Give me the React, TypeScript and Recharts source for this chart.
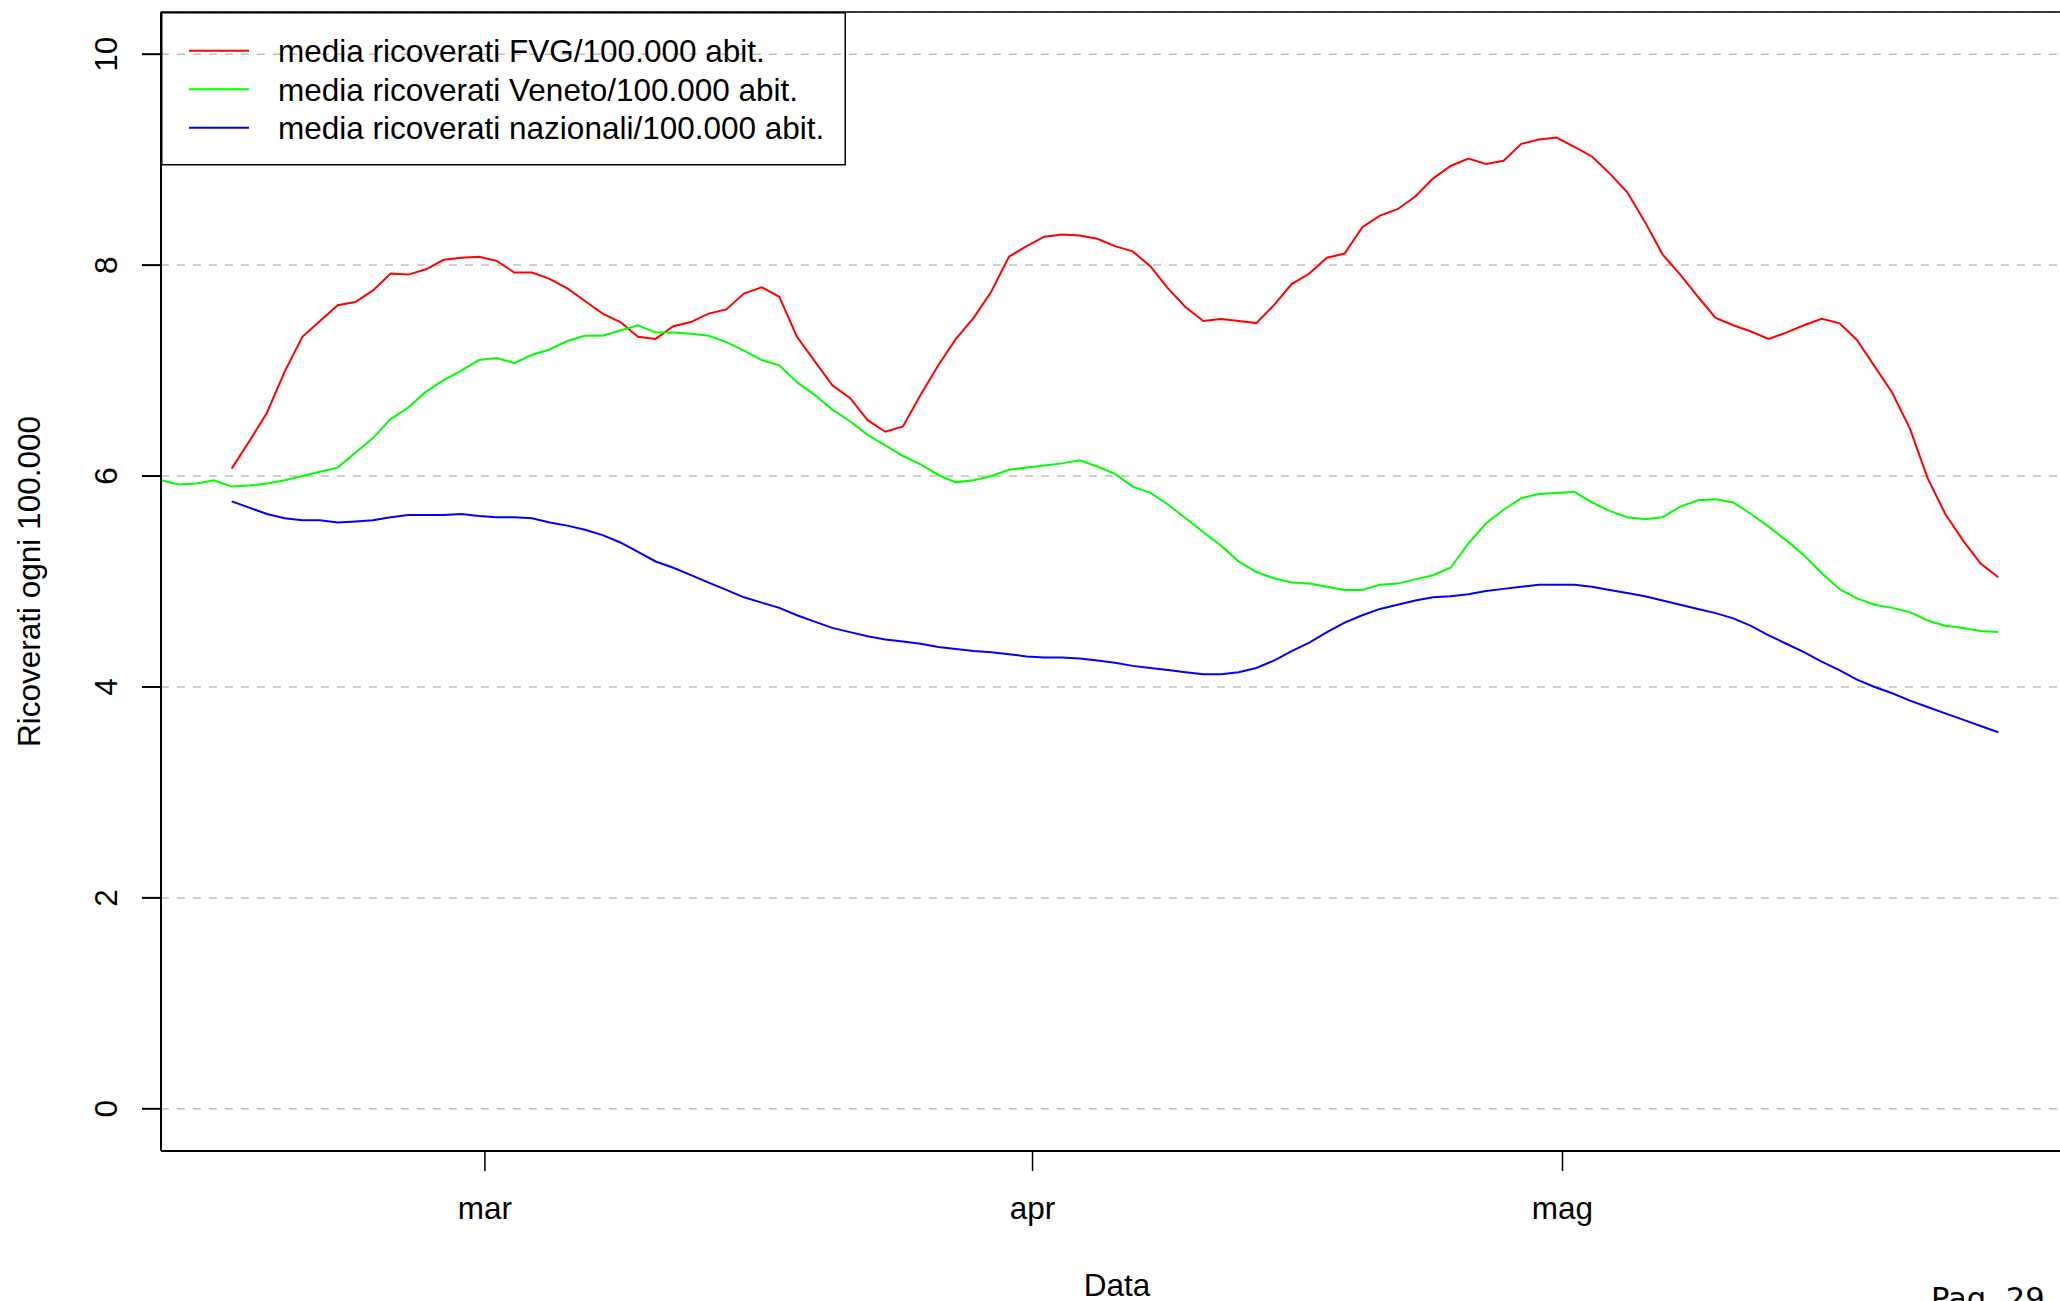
import React from 'react'
import { LineChart, Line, XAxis, YAxis, CartesianGrid, Legend, ReferenceLine } from 'recharts'

// day of year (2021) of the first sample; samples are stamped 16:00 UTC
const FIRST_DOY = 41
const SAMPLE_HOUR = 16 / 24

const MONTH_TICKS = [60, 91, 121]
const MONTH_LABELS: Record<number, string> = { 60: 'mar', 91: 'apr', 121: 'mag' }
const Y_TICKS = [0, 2, 4, 6, 8, 10]

const FVG = [
  null, null, null, null, 6.07, 6.33, 6.6, 6.99, 7.32, 7.47, 7.62, 7.65, 7.76, 7.92, 7.91, 7.96, 8.05, 8.07, 8.08, 8.04,
  7.93, 7.93, 7.87, 7.78, 7.66, 7.54, 7.46, 7.32, 7.3, 7.42, 7.46, 7.54, 7.58, 7.73, 7.79, 7.7, 7.32, 7.09, 6.86, 6.74,
  6.53, 6.42, 6.47, 6.77, 7.05, 7.3, 7.5, 7.75, 8.08, 8.18, 8.27, 8.29, 8.28, 8.25, 8.18, 8.13, 7.99, 7.78, 7.6, 7.47,
  7.49, 7.47, 7.45, 7.62, 7.82, 7.92, 8.07, 8.11, 8.36, 8.47, 8.53, 8.65, 8.82, 8.94, 9.01, 8.96, 8.99, 9.15, 9.19, 9.21,
  9.12, 9.03, 8.87, 8.69, 8.41, 8.1, 7.91, 7.7, 7.5, 7.43, 7.37, 7.3, 7.36, 7.43, 7.49, 7.45, 7.29, 7.04, 6.79, 6.45,
  5.98, 5.64, 5.39, 5.17, 5.04,
]

const VENETO = [
  5.96, 5.92, 5.93, 5.96, 5.9, 5.91, 5.93, 5.96, 6.0, 6.04, 6.08, 6.22, 6.36, 6.54, 6.65, 6.8, 6.91, 7.0, 7.1, 7.12,
  7.07, 7.15, 7.2, 7.28, 7.33, 7.33, 7.38, 7.43, 7.36, 7.36, 7.35, 7.33, 7.27, 7.19, 7.1, 7.05, 6.89, 6.77, 6.63, 6.52,
  6.39, 6.29, 6.19, 6.11, 6.01, 5.94, 5.96, 6.0, 6.06, 6.08, 6.1, 6.12, 6.15, 6.09, 6.02, 5.9, 5.84, 5.73, 5.6, 5.47,
  5.34, 5.19, 5.09, 5.03, 4.99, 4.98, 4.95, 4.92, 4.92, 4.97, 4.98, 5.02, 5.06, 5.13, 5.36, 5.55, 5.68, 5.79, 5.83, 5.84,
  5.85, 5.75, 5.67, 5.61, 5.59, 5.61, 5.71, 5.77, 5.78, 5.75, 5.64, 5.52, 5.39, 5.25, 5.08, 4.93, 4.84, 4.78, 4.75, 4.71,
  4.63, 4.58, 4.56, 4.53, 4.52,
]

const ITALIA = [
  null, null, null, null, 5.76, 5.7, 5.64, 5.6, 5.58, 5.58, 5.56, 5.57, 5.58, 5.61, 5.63, 5.63, 5.63, 5.64, 5.62, 5.61,
  5.61, 5.6, 5.56, 5.53, 5.49, 5.44, 5.37, 5.28, 5.19, 5.13, 5.06, 4.99, 4.92, 4.85, 4.8, 4.75, 4.68, 4.62, 4.56, 4.52,
  4.48, 4.45, 4.43, 4.41, 4.38, 4.36, 4.34, 4.33, 4.31, 4.29, 4.28, 4.28, 4.27, 4.25, 4.23, 4.2, 4.18, 4.16, 4.14, 4.12,
  4.12, 4.14, 4.18, 4.25, 4.34, 4.42, 4.52, 4.61, 4.68, 4.74, 4.78, 4.82, 4.85, 4.86, 4.88, 4.91, 4.93, 4.95, 4.97, 4.97,
  4.97, 4.95, 4.92, 4.89, 4.86, 4.82, 4.78, 4.74, 4.7, 4.65, 4.58, 4.49, 4.41, 4.33, 4.24, 4.16, 4.07, 4.0, 3.94, 3.87,
  3.81, 3.75, 3.69, 3.63, 3.57,
]

const SERIES = [
  { key: 'fvg', name: 'media ricoverati FVG/100.000 abit.', color: '#FF0000' },
  { key: 'veneto', name: 'media ricoverati Veneto/100.000 abit.', color: '#00FF00' },
  { key: 'italia', name: 'media ricoverati nazionali/100.000 abit.', color: '#0000FF' },
]

const X_MIN = FIRST_DOY + SAMPLE_HOUR
const X_MAX = X_MIN + 108.23
const Y_MIN = -0.4
const Y_MAX = 10.4
const FONT = '"Liberation Sans", Arial, Helvetica, sans-serif'
const FS = 31.5

const data = VENETO.map((v, i) => ({
  t: FIRST_DOY + i + SAMPLE_HOUR,
  fvg: FVG[i],
  veneto: v,
  italia: ITALIA[i],
}))

const XTick = ({ x, y, payload }: any) => (
  <text x={x} y={y + 46} textAnchor="middle" fontFamily={FONT} fontSize={FS} fill="#000">
    {MONTH_LABELS[payload.value]}
  </text>
)

const YTick = ({ x, y, payload }: any) => (
  <text
    x={x - 23}
    y={y}
    transform={`rotate(-90, ${x - 23}, ${y})`}
    textAnchor="middle"
    fontFamily={FONT}
    fontSize={FS}
    fill="#000"
  >
    {payload.value}
  </text>
)

const renderLegend = ({ payload }: any) => {
  const items = [...(payload || [])].sort(
    (a: any, b: any) =>
      SERIES.findIndex(s => s.key === a.dataKey) - SERIES.findIndex(s => s.key === b.dataKey)
  )
  return (
    <svg width={685} height={154} style={{ display: 'block', overflow: 'visible' }}>
      <rect x={0.75} y={0.75} width={683.5} height={152} fill="none" stroke="#000" strokeWidth={1.5} />
      {items.map((entry: any, i: number) => {
        const cy = 38.7 + i * 38.5
        return (
          <g key={entry.value}>
            <line x1={28} x2={88} y1={cy} y2={cy} stroke={entry.color} strokeWidth={2} />
            <text x={117} y={cy + 11.5} fontFamily={FONT} fontSize={FS} fill="#000">
              {entry.value}
            </text>
          </g>
        )
      })}
    </svg>
  )
}

export default function App() {
  return (
    <div
      style={{
        position: 'absolute',
        left: 0,
        top: 0,
        width: 2060,
        height: 1301,
        overflow: 'hidden',
        background: '#fff',
      }}
    >
      <LineChart width={2093} height={1301} data={data} margin={{ top: 12, right: 20, bottom: 0, left: 0 }}>
        <CartesianGrid
          horizontal
          vertical={false}
          stroke="#BEBEBE"
          strokeDasharray="8 8"
          strokeWidth={1.5}
        />
        <XAxis
          dataKey="t"
          type="number"
          domain={[X_MIN, X_MAX]}
          allowDataOverflow
          ticks={MONTH_TICKS}
          interval={0}
          height={150}
          tickSize={20}
          tick={<XTick />}
          axisLine={{ stroke: '#000', strokeWidth: 2 }}
          tickLine={{ stroke: '#000', strokeWidth: 1.5 }}
          label={{
            content: ({ viewBox }: any) => (
              <text
                x={viewBox.x + viewBox.width / 2}
                y={1296}
                textAnchor="middle"
                fontFamily={FONT}
                fontSize={FS}
                fill="#000"
              >
                Data
              </text>
            ),
          }}
        />
        <YAxis
          type="number"
          domain={[Y_MIN, Y_MAX]}
          allowDataOverflow
          ticks={Y_TICKS}
          interval={0}
          width={161}
          tickSize={19}
          tick={<YTick />}
          axisLine={{ stroke: '#000', strokeWidth: 2 }}
          tickLine={{ stroke: '#000', strokeWidth: 2 }}
          label={{
            content: ({ viewBox }: any) => {
              const cy = viewBox.y + viewBox.height / 2
              return (
                <text
                  x={40}
                  y={cy}
                  transform={`rotate(-90, 40, ${cy})`}
                  textAnchor="middle"
                  fontFamily={FONT}
                  fontSize={FS}
                  fill="#000"
                >
                  Ricoverati ogni 100.000
                </text>
              )
            },
          }}
        />
        <ReferenceLine
          segment={[
            { x: X_MIN, y: 0 },
            { x: X_MIN, y: Y_MAX },
          ]}
          stroke="#BEBEBE"
          strokeWidth={2}
          strokeDasharray="3 5"
          ifOverflow="visible"
        />
        <ReferenceLine y={Y_MAX} stroke="#000" strokeWidth={1.5} ifOverflow="visible" />
        {SERIES.map(s => (
          <Line
            key={s.key}
            type="linear"
            dataKey={s.key}
            name={s.name}
            stroke={s.color}
            strokeWidth={2}
            dot={false}
            activeDot={false}
            connectNulls={false}
            isAnimationActive={false}
          />
        ))}
        <Legend
          layout="vertical"
          align="center"
          verticalAlign="middle"
          content={renderLegend}
          wrapperStyle={{ position: 'absolute', left: 161, top: 12, width: 685, height: 154 }}
        />
      </LineChart>
      <svg
        width={2060}
        height={1301}
        style={{ position: 'absolute', left: 0, top: 0, pointerEvents: 'none' }}
      >
        <text x={1931} y={1309} fontFamily='"DejaVu Sans", sans-serif' fontSize={30.6} fill="#000">
          Pag. 29
        </text>
      </svg>
    </div>
  )
}
